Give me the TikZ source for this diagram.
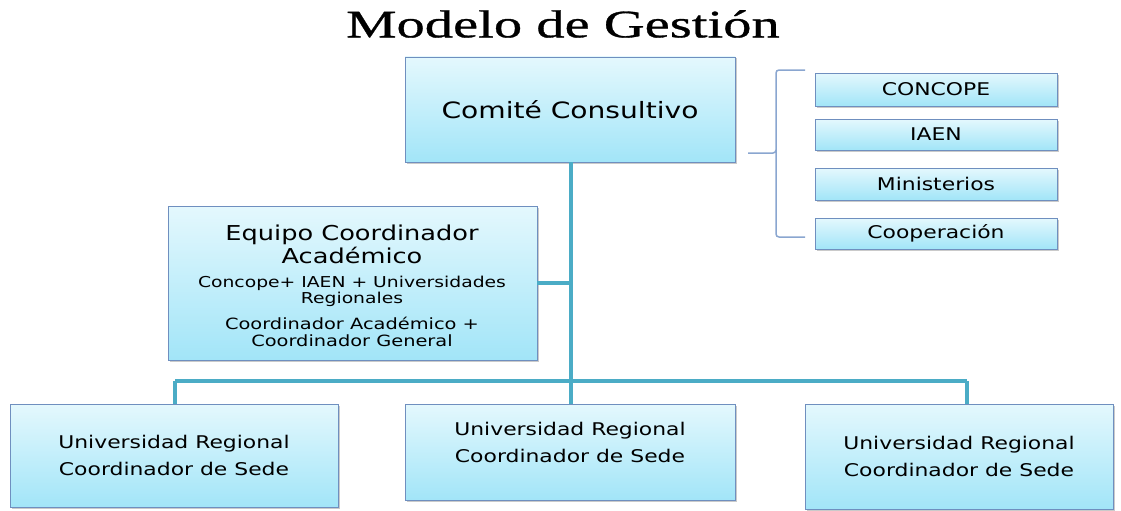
\documentclass[tikz,border=0pt]{standalone}
\usepackage{fontspec}
\setmainfont[FakeStretch=1.25]{DejaVu Sans}
\newfontfamily\titlefont[FakeStretch=1.45,FakeBold=0.8]{Liberation Serif}
\usetikzlibrary{shadows}
\definecolor{boxtop}{HTML}{E4F8FD}
\definecolor{boxbot}{HTML}{A2E5F8}
\definecolor{boxline}{HTML}{6F8FBF}
\definecolor{trunk}{HTML}{4BACC6}
\definecolor{bracec}{HTML}{8AA6D0}
\tikzset{
  ubox/.style={draw=boxline, line width=0.8pt, top color=boxtop, bottom color=boxbot,
    anchor=north west, inner sep=2pt, outer sep=0pt, align=center,
    drop shadow={shadow xshift=1.5pt, shadow yshift=-1.5pt, opacity=0.35, fill=black!60}},
  conn/.style={draw=trunk, line width=3.5pt},
  brace/.style={draw=bracec, line width=1.5pt, rounded corners=3pt},
  rtext/.style={font=\fontsize{17.5}{20}\selectfont},
  btext/.style={font=\fontsize{17.5}{27}\selectfont},
}
\begin{document}
\begin{tikzpicture}[x=1pt,y=-1pt]
\useasboundingbox (0,0) rectangle (1121,511);
\node[font=\titlefont\fontsize{39}{40}\selectfont] (title) at (563,24) {Modelo de Gestión};

% top box
\node[ubox, minimum width=330pt, minimum height=105pt, font=\fontsize{22.5}{26}\selectfont] (cc) at (405,57) {Comité Consultivo};

% right list
\node[ubox, rtext, minimum width=242pt, minimum height=33pt] (r1) at (815,73) {CONCOPE};
\node[ubox, rtext, minimum width=242pt, minimum height=31pt] (r2) at (815,119) {IAEN};
\node[ubox, rtext, minimum width=242pt, minimum height=32pt] (r3) at (815,168) {Ministerios};
\node[ubox, rtext, minimum width=242pt, minimum height=31pt] (r4) at (815,218) {Cooperación};

% brace
\coordinate (bm) at (748,153);
\coordinate (bt) at (805,70);
\coordinate (bb) at (805,237);
\draw[brace] (bt) -- (776,70) -- (776,153) -- (bm);
\draw[brace] (776,150) -- (776,237) -- (bb);

% equipo box
\node[ubox, minimum width=369pt, minimum height=154pt] (eq) at (168,206) {};
\node[font=\fontsize{20.5}{23}\selectfont, align=center] (eqt) at (352,244) {Equipo Coordinador\\Académico};
\node[font=\fontsize{15}{16}\selectfont, align=center] (eq2) at (352,291) {Concope+ IAEN + Universidades\\Regionales};
\node[font=\fontsize{15.5}{17}\selectfont, align=center] (eq3) at (352,332) {Coordinador Académico +\\Coordinador General};

% bottom boxes
\node[ubox, btext, minimum width=328pt, minimum height=103pt] (b1) at (10,404) {Universidad Regional\\Coordinador de Sede};
\node[ubox, minimum width=330pt, minimum height=96pt] (b2) at (405,404) {};
\node[btext, align=center] (b2t) at (570,442) {Universidad Regional\\Coordinador de Sede};
\node[ubox, btext, minimum width=308pt, minimum height=105pt] (b3) at (805,404) {Universidad Regional\\Coordinador de Sede};

% connectors
\coordinate (bus) at (571,381);
\coordinate (busL) at (175,381);
\coordinate (busR) at (967,381);
\coordinate (eqj) at (571,283);
\draw[conn] (cc.south -| bus) -- (bus);
\draw[conn] (eq.east |- eqj) -- (eqj);
\draw[conn] (busL) -- (busR);
\draw[conn] (busL) -- (b1.north -| busL);
\draw[conn] (bus) -- (b2.north -| bus);
\draw[conn] (busR) -- (b3.north -| busR);
\end{tikzpicture}
\end{document}
